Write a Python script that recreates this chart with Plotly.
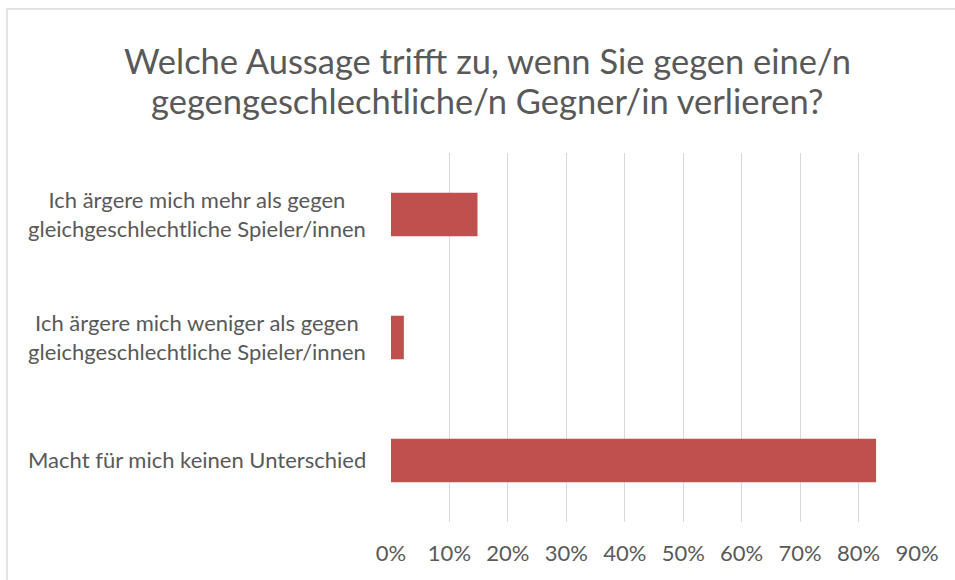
import plotly.graph_objects as go

# Survey answers, listed top to bottom as displayed
categories = [
    "Ich ärgere mich mehr als gegen<br>gleichgeschlechtliche Spieler/innen",
    "Ich ärgere mich weniger als gegen<br>gleichgeschlechtliche Spieler/innen",
    "Macht für mich keinen Unterschied",
]
shares = [0.148, 0.022, 0.830]

x_ticks = [0, 0.1, 0.2, 0.3, 0.4, 0.5, 0.6, 0.7, 0.8, 0.9]
x_tick_labels = ["0%", "10%", "20%", "30%", "40%", "50%", "60%", "70%", "80%", "90%"]

title_lines = [
    "Welche Aussage trifft zu, wenn Sie gegen eine/n",
    "gegengeschlechtliche/n Gegner/in verlieren?",
]

FONT = "Lato"
TEXT_GREY = "#595959"
GRID_GREY = "#d9d9d9"
BAR_RED = "#c0504d"

W, H = 955, 580
ML, MR, MT, MB = 391, 38, 153, 58
plot_w = W - ML - MR
plot_h = H - MT - MB


def py(px):
    """Pixel row (from top of page) -> paper y coordinate."""
    return 1 + (MT - px) / plot_h


fig = go.Figure(
    go.Bar(
        x=shares,
        y=categories,
        orientation="h",
        marker=dict(color=BAR_RED, line=dict(width=0)),
        hoverinfo="x+y",
    )
)

# Category labels, centred line by line to the left of the axis
for cat in categories:
    fig.add_annotation(
        x=0, xref="paper", xshift=-23,
        y=cat, yref="y", yshift=1,
        text=cat, showarrow=False,
        xanchor="right", yanchor="middle", align="center",
        font=dict(family=FONT, size=22, color=TEXT_GREY),
    )

# Two-line chart title with tighter line spacing
for line, row in zip(title_lines, [61, 100]):
    fig.add_annotation(
        x=(487 - ML) / plot_w, xref="paper",
        y=py(row), yref="paper",
        text=line, showarrow=False,
        xanchor="center", yanchor="middle",
        font=dict(family=FONT, size=34.5, color=TEXT_GREY),
    )

# Light outline around the chart area
fig.add_shape(
    type="rect", xref="paper", yref="paper",
    x0=(7 - ML) / plot_w, x1=(W + 10 - ML) / plot_w,
    y0=-(MB + 10) / plot_h, y1=py(9),
    line=dict(color=GRID_GREY, width=1.5), fillcolor="rgba(0,0,0,0)",
    layer="below",
)

fig.update_layout(
    width=W, height=H,
    margin=dict(l=ML, r=MR, t=MT, b=MB, pad=0),
    paper_bgcolor="white", plot_bgcolor="white",
    bargap=0.646,
    showlegend=False,
    xaxis=dict(
        range=[0, 0.9],
        tickvals=x_ticks, ticktext=x_tick_labels,
        showgrid=True, gridcolor=GRID_GREY, gridwidth=1.3,
        zeroline=False, showline=False, ticks="",
        tickfont=dict(family=FONT, size=22, color=TEXT_GREY),
        ticklabelstandoff=16,
        fixedrange=True,
    ),
    yaxis=dict(
        categoryorder="array", categoryarray=categories,
        autorange="reversed",
        showticklabels=False, showgrid=False,
        zeroline=False, showline=False, ticks="",
        fixedrange=True,
    ),
)

fig.write_html("out.html")
